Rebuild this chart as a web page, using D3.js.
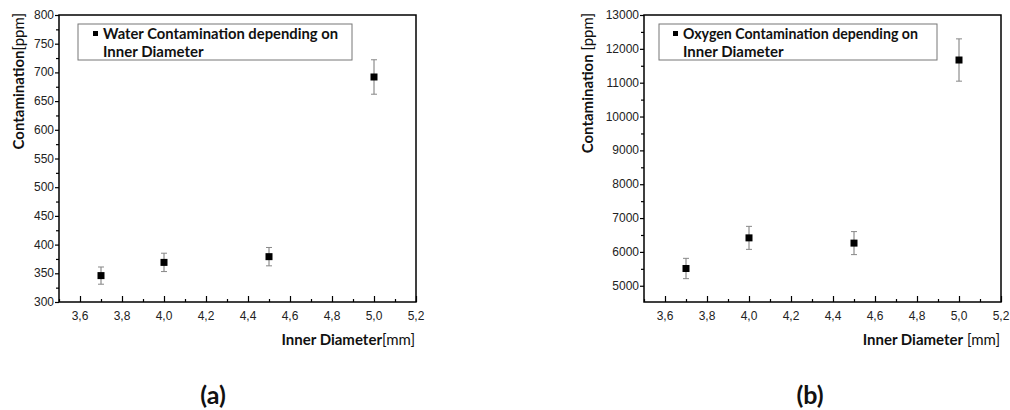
<!DOCTYPE html>
<html>
<head>
<meta charset="utf-8">
<script src="https://cdn.jsdelivr.net/npm/d3@7"></script>
<style>
  body { margin: 0; background: #fff; }
  svg { display: block; }
  .tick-label { font-family: "Liberation Sans", Arial, sans-serif; font-size: 12px; fill: #222; }
  .bold { font-family: Lato, "Open Sans", sans-serif; font-weight: bold; }
  .light { font-family: Lato, "Open Sans", sans-serif; font-weight: normal; }
</style>
</head>
<body>
<svg id="canvas" width="1010" height="410"></svg>
<script>
// values
const diameters = [3.7, 4.0, 4.5, 5.0];
const waterPpm = [346, 369, 379, 692];
const waterErr = [15, 16, 16, 30];
const oxygenPpm = [5510, 6415, 6260, 11670];
const oxygenErr = [300, 340, 340, 625];

const xTicks = [3.6, 3.8, 4.0, 4.2, 4.4, 4.6, 4.8, 5.0, 5.2];
const xMinor = [3.5, 3.7, 3.9, 4.1, 4.3, 4.5, 4.7, 4.9, 5.1];
const waterTicks = [300, 350, 400, 450, 500, 550, 600, 650, 700, 750, 800];
const waterMinor = [325, 375, 425, 475, 525, 575, 625, 675, 725, 775];
const oxygenTicks = [5000, 6000, 7000, 8000, 9000, 10000, 11000, 12000, 13000];
const oxygenMinor = [5500, 6500, 7500, 8500, 9500, 10500, 11500, 12500];

let canvas = d3.select("#canvas");

let drawPanel = (p) => {
	let g = canvas.append("g");

	let x = d3.scaleLinear().domain([3.5, 5.2]).range([p.left, p.right]);
	let y = d3.scaleLinear().domain(p.yDomain).range([p.bottom, p.top]);

	let fmt = (d) => d3.format(".1f")(d).replace(".", ",");

	// frame
	g.append("rect")
		.attr("x", p.left).attr("y", p.top)
		.attr("width", p.right - p.left).attr("height", p.bottom - p.top)
		.attr("fill", "none").attr("stroke", "#000").attr("stroke-width", 1.5);

	// x axis: ticks point inward
	let xAxis = d3.axisTop(x).tickValues(xTicks).tickSize(6).tickFormat("");
	g.append("g").attr("transform", `translate(0,${p.bottom})`).call(xAxis)
		.call(a => a.select(".domain").remove());
	let xMinorAxis = d3.axisTop(x).tickValues(xMinor).tickSize(3).tickFormat("");
	g.append("g").attr("transform", `translate(0,${p.bottom})`).call(xMinorAxis)
		.call(a => a.select(".domain").remove());
	g.selectAll(".xlab")
		.data(xTicks)
		.enter()
		.append("text")
		.attr("class", "tick-label")
		.attr("x", (d) => x(d))
		.attr("y", p.bottom + 18)
		.attr("text-anchor", "middle")
		.text(fmt);

	// y axis: ticks point outward
	let yAxis = d3.axisLeft(y).tickValues(p.yTicks).tickSize(4).tickFormat("");
	g.append("g").attr("transform", `translate(${p.left},0)`).call(yAxis)
		.call(a => a.select(".domain").remove());
	let yMinorAxis = d3.axisLeft(y).tickValues(p.yMinor).tickSize(3).tickFormat("");
	g.append("g").attr("transform", `translate(${p.left},0)`).call(yMinorAxis)
		.call(a => a.select(".domain").remove());
	g.selectAll(".ylab")
		.data(p.yTicks)
		.enter()
		.append("text")
		.attr("class", "tick-label")
		.attr("x", p.left - 5)
		.attr("y", (d) => y(d) + 4)
		.attr("text-anchor", "end")
		.text((d) => d);

	g.selectAll(".tick line").attr("stroke", "#000").attr("stroke-width", 1.2);

	// error bars
	let bars = g.selectAll(".err")
		.data(diameters.map((d, i) => ({ x: d, v: p.values[i], e: p.errors[i] })))
		.enter()
		.append("g");
	bars.append("line")
		.attr("x1", (d) => x(d.x)).attr("x2", (d) => x(d.x))
		.attr("y1", (d) => y(d.v - d.e)).attr("y2", (d) => y(d.v + d.e))
		.attr("stroke", "#777").attr("stroke-width", 1);
	bars.append("line")
		.attr("x1", (d) => x(d.x) - 3).attr("x2", (d) => x(d.x) + 3)
		.attr("y1", (d) => y(d.v + d.e)).attr("y2", (d) => y(d.v + d.e))
		.attr("stroke", "#888").attr("stroke-width", 1);
	bars.append("line")
		.attr("x1", (d) => x(d.x) - 3).attr("x2", (d) => x(d.x) + 3)
		.attr("y1", (d) => y(d.v - d.e)).attr("y2", (d) => y(d.v - d.e))
		.attr("stroke", "#888").attr("stroke-width", 1);
	bars.append("rect")
		.attr("x", (d) => x(d.x) - 3.5).attr("y", (d) => y(d.v) - 3.5)
		.attr("width", 7).attr("height", 7)
		.attr("fill", "#000");

	// legend
	let lg = g.append("g");
	lg.append("rect")
		.attr("x", p.left + p.boxX).attr("y", p.top + 9)
		.attr("width", p.legendW).attr("height", 36)
		.attr("fill", "#fff").attr("stroke", "#777").attr("stroke-width", 1);
	lg.append("rect")
		.attr("x", p.left + p.textX - 10).attr("y", p.top + 16)
		.attr("width", 5).attr("height", 5).attr("fill", "#000");
	lg.append("text").attr("class", "bold")
		.attr("x", p.left + p.textX).attr("y", p.top + 24)
		.attr("font-size", 15).attr("fill", "#111")
		.attr("textLength", 235).attr("lengthAdjust", "spacingAndGlyphs")
		.text(p.legend);
	lg.append("text").attr("class", "bold")
		.attr("x", p.left + p.textX).attr("y", p.top + 42)
		.attr("font-size", 15).attr("fill", "#111")
		.text("Inner Diameter");

	// y title
	let yt = g.append("text")
		.attr("transform", `translate(${p.titleX},${p.top - 2}) rotate(-90)`)
		.attr("text-anchor", "end")
		.attr("font-size", 15).attr("fill", "#111");
	yt.append("tspan").attr("class", "bold").text("Contamination");
	yt.append("tspan").attr("class", "light").text(p.xGap + "[ppm]");

	// x title
	let xt = g.append("text")
		.attr("x", p.right - 1).attr("y", p.bottom + 43)
		.attr("text-anchor", "end")
		.attr("font-size", 15).attr("fill", "#111");
	xt.append("tspan").attr("class", "bold").text("Inner Diameter");
	xt.append("tspan").attr("class", "light").text(p.xGap + "[mm]");

	// caption
	g.append("text").attr("class", "bold")
		.attr("x", p.captionX).attr("y", 404)
		.attr("text-anchor", "middle")
		.attr("font-size", 25).attr("fill", "#111")
		.text(p.caption);
};

drawPanel({
	left: 59, right: 416, top: 15, bottom: 302,
	yDomain: [300, 800], yTicks: waterTicks, yMinor: waterMinor,
	values: waterPpm, errors: waterErr,
	legend: "Water Contamination depending on", legendW: 274, boxX: 19, textX: 44,
	titleX: 24, xGap: "", caption: "(a)", captionX: 213
});

drawPanel({
	left: 644, right: 1001, top: 15, bottom: 302,
	yDomain: [4520, 13000], yTicks: oxygenTicks, yMinor: oxygenMinor,
	values: oxygenPpm, errors: oxygenErr,
	legend: "Oxygen Contamination depending on", legendW: 278, boxX: 15, textX: 39,
	titleX: 593, xGap: " ", caption: "(b)", captionX: 810
});
</script>
</body>
</html>
